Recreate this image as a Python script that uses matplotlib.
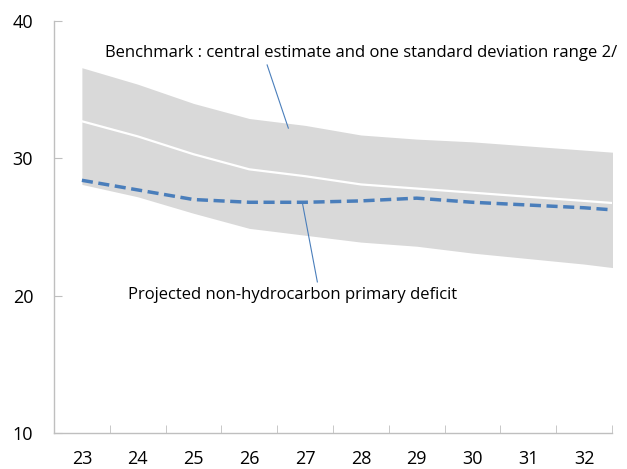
import matplotlib
matplotlib.use("Agg")
import matplotlib.pyplot as plt
from matplotlib.ticker import FixedLocator

years = [23, 24, 25, 26, 27, 28, 29, 30, 31, 32, 33]
tick_labels = ["23", "24", "25", "26", "27", "28", "29", "30", "31", "32"]
upper = [36.6, 35.4, 34.0, 32.9, 32.4, 31.7, 31.4, 31.2, 30.9, 30.6, 30.3]
central = [32.7, 31.6, 30.3, 29.2, 28.7, 28.1, 27.8, 27.5, 27.2, 26.9, 26.6]
lower = [28.1, 27.2, 26.0, 24.9, 24.4, 23.9, 23.6, 23.1, 22.7, 22.3, 21.8]
projected = [28.4, 27.7, 27.0, 26.8, 26.8, 26.9, 27.1, 26.8, 26.6, 26.4, 26.1]

plt.rcParams['font.family'] = ['Open Sans', 'DejaVu Sans']

fig = plt.figure(figsize=(6.27, 4.69), dpi=100)
ax = fig.add_axes([0.0861, 0.0768, 0.8899, 0.8784])

ax.fill_between(years, lower, upper, color='#d9d9d9', linewidth=0, zorder=1)
ax.plot(years, central, color='white', linewidth=1.6, zorder=2)
ax.plot(years, projected, color='#4a7ebb', linewidth=2.5, linestyle=(0, (3.2, 1.6)), zorder=3)

ax.set_xlim(22.5, 32.5)
ax.set_ylim(10, 40)
ax.set_yticks([10, 20, 30, 40])
ax.set_xticks(years[:10])
ax.set_xticklabels(tick_labels)
ax.xaxis.set_minor_locator(FixedLocator([y - 0.5 for y in years]))

for s in ['top', 'right']:
    ax.spines[s].set_visible(False)
for s in ['left', 'bottom']:
    ax.spines[s].set_color('#bfbfbf')
    ax.spines[s].set_linewidth(1.0)

ax.tick_params(axis='x', which='major', length=0, pad=12, labelsize=13, colors='black')
ax.tick_params(axis='x', which='minor', direction='in', length=6, color='#bfbfbf')
ax.tick_params(axis='y', direction='in', length=6, color='#bfbfbf', pad=15, labelsize=13)

ax.text(23.42, 37.67, "Benchmark : central estimate and one standard deviation range 2/",
        ha='left', va='center', fontsize=12, color='black')
ax.text(23.83, 20.04, "Projected non-hydrocarbon primary deficit",
        ha='left', va='center', fontsize=12, color='black')
ax.plot([26.32, 26.70], [36.8, 32.2], color='#4a7ebb', linewidth=0.8, zorder=4)
ax.plot([26.95, 27.22], [26.8, 21.0], color='#4a7ebb', linewidth=0.8, zorder=4)

fig.savefig("out.png", dpi=100)
